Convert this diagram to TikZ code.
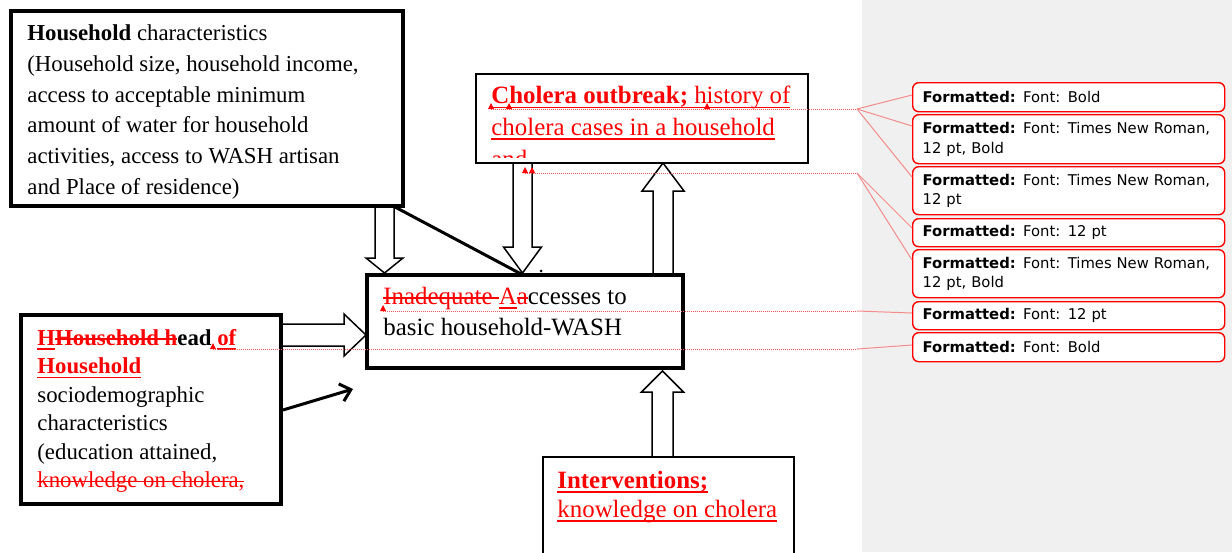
\documentclass[tikz,border=0pt]{standalone}
\usepackage{fontspec}
\setmainfont{Liberation Serif}
\newfontfamily\balfont{DejaVu Sans}
\usetikzlibrary{arrows.meta,calc}
\definecolor{panel}{RGB}{240,240,240}
\definecolor{trk}{RGB}{255,0,0}
\definecolor{trkline}{RGB}{245,90,90}
\definecolor{fanline}{RGB}{245,140,140}
% own underline and strike-out
\newcommand\ulx[1]{\leavevmode\setbox0\hbox{#1}\rlap{\rule[-2.2pt]{\wd0}{0.9pt}}\box0}
\newcommand\stx[1]{\leavevmode\setbox0\hbox{#1}\rlap{\rule[2.9pt]{\wd0}{0.7pt}}\box0}
% block arrow: #1 start, #2 rotation, #3 length, #4 shaft half width, #5 head half width, #6 head length
\newcommand\blockarrow[6]{%
  \draw[blk,shift={(#1)},rotate=#2] (0,-#4) -- ({#3-#6},-#4) -- ({#3-#6},-#5) -- (#3,0)
    -- ({#3-#6},#5) -- ({#3-#6},#4) -- (0,#4) -- cycle;}
\newcommand\caretat[2]{\fill[trk] ({#1-3},#2) -- ({#1+3},#2) -- (#1,{#2-6}) -- cycle;}
\begin{document}
\begin{tikzpicture}[x=0.5pt,y=-0.5pt,
  box/.style={draw=black, fill=white, anchor=north west, inner sep=0pt, outer sep=0pt},
  thickbox/.style={box, line width=1.7pt},
  thinbox/.style={box, line width=0.9pt},
  txt/.style={anchor=north west, inner sep=0pt, align=left},
  blk/.style={draw=black, fill=white, line width=0.75pt, line join=miter},
  conn/.style={line width=1.5pt, draw=black},
  track/.style={draw=trkline, line width=0.45pt, dash pattern=on 0.6pt off 0.4pt},
  fan/.style={draw=fanline, line width=0.5pt},
  balloon/.style={draw=trk, fill=white, line width=0.7pt, rounded corners=3pt,
    anchor=north west, minimum width=156pt, text width=146pt, inner xsep=5pt,
    inner ysep=0pt, align=left, font=\balfont\fontsize{7.4}{9.75}\selectfont}
]
\useasboundingbox (0,0) rectangle (1232,552);
\fill[panel] (862,0) rectangle (1232,552);

% block arrows and connectors (drawn under the boxes)
\blockarrow{384.5,207}{-90}{66}{9.5}{18.5}{15}
\blockarrow{522.5,163}{-90}{110}{9.5}{19}{26}
\blockarrow{663,275}{90}{112}{10}{21}{28}
\blockarrow{662.5,457}{90}{86}{10.5}{21}{21}
\blockarrow{281,335}{0}{85}{11}{21}{22}

% boxes
\node[thickbox, minimum width=196pt, minimum height=97.5pt] (hh) at (11,11) {};
\node[thinbox, minimum width=166pt, minimum height=44.5pt] (ob) at (476,74) {};
\node[thickbox, minimum width=158pt, minimum height=46.5pt] (wash) at (367,275) {};
\node[thickbox, minimum width=130pt, minimum height=94.5pt] (head) at (21,315) {};
\node[thinbox, minimum width=125.5pt, minimum height=53pt] (int) at (543,457) {};

% line connectors
\coordinate (hhs) at (395,207);
\coordinate (hds) at (283,410);
\coordinate (hde) at (353,389);
\draw[conn] (hhs) -- (wash.north -| 523,0);
\fill (541,271) circle (1.5);
\draw[conn, -{Straight Barb[length=5pt,width=9pt]}] (hds) -- (hde);

% texts
\node[txt, font=\fontsize{11.4}{15.4}\selectfont] (hhtxt) at (27,16)
 {\rule{0pt}{12pt}\textbf{Household} characteristics\\
  (Household size, household income,\\
  access to acceptable minimum\\
  amount of water for household\\
  activities, access to WASH artisan\\
  and Place of residence)};

\begin{scope}
\clip (477,75) rectangle (807,157);
\node[txt, font=\fontsize{12.45}{15.85}\selectfont, text=trk] (obtxt) at (491,79.5)
 {\rule{0pt}{12pt}\ulx{\textbf{Cholera outbreak;} history of}\\
  \ulx{cholera cases in a household}\\
  and};
\end{scope}

\node[txt, font=\fontsize{12.45}{15.5}\selectfont] (washtxt) at (383,280)
 {\rule{0pt}{12pt}{\color{trk}\stx{Inadequate }\ulx{A}\stx{a}}ccesses to\\
  basic household-WASH};

\node[txt, font=\fontsize{11.4}{14.25}\selectfont] (headtxt) at (37,321)
 {\rule{0pt}{12pt}{\bfseries{\color{trk}\ulx{H}\stx{Household h}}ead {\color{trk}\ulx{of}}}\\
  {\color{trk}\bfseries\ulx{Household}}\\
  sociodemographic\\
  characteristics\\
  (education attained,\\
  {\color{trk}\stx{knowledge on cholera,}}};

\node[txt, font=\fontsize{12.45}{14.5}\selectfont] (inttxt) at (557,464)
 {\rule{0pt}{12pt}{\color{trk}\bfseries\ulx{Interventions;}}\\
  {\color{trk}\ulx{knowledge on cholera}}};

% comment balloons
\node[balloon, minimum height=14.5pt] (b1) at (912,82) {\textbf{Formatted:} Font: Bold};
\node[balloon, minimum height=24.5pt] (b2) at (912,114) {\textbf{Formatted:} Font: Times New Roman,\\12 pt, Bold};
\node[balloon, minimum height=24pt] (b3) at (912,166) {\textbf{Formatted:} Font: Times New Roman,\\12 pt};
\node[balloon, minimum height=14pt] (b4) at (912,218) {\textbf{Formatted:} Font: 12 pt};
\node[balloon, minimum height=24pt] (b5) at (912,249) {\textbf{Formatted:} Font: Times New Roman,\\12 pt, Bold};
\node[balloon, minimum height=14pt] (b6) at (912,301) {\textbf{Formatted:} Font: 12 pt};
\node[balloon, minimum height=14.5pt] (b7) at (912,332) {\textbf{Formatted:} Font: Bold};

% track-change leader lines
\coordinate (k1) at (491,109); \coordinate (f1) at (857,109);
\coordinate (k2) at (525,173); \coordinate (f2) at (857,173);
\coordinate (k3) at (383,311); \coordinate (f3) at (857,311);
\coordinate (k4) at (213,349); \coordinate (f4) at (857,349);
\draw[track] (k1) -- (f1);
\draw[track] (k2) -- (f2);
\draw[track] (k3) -- (f3);
\draw[track] (k4) -- (f4);
\draw[fan] (f1) -- ($(b1.north west)+(0,13)$);
\draw[fan] (f1) -- ($(b2.north west)+(0,12)$);
\draw[fan] (f1) -- ($(b3.north west)+(0,11)$);
\draw[fan] (f2) -- ($(b4.north west)+(0,10)$);
\draw[fan] (f2) -- ($(b5.north west)+(0,11)$);
\draw[fan] (f3) -- ($(b6.north west)+(0,12)$);
\draw[fan] (f4) -- ($(b7.north west)+(0,13)$);

% insertion carets
\caretat{491}{109}
\caretat{509}{109}
\caretat{707}{109}
\caretat{525}{173}
\caretat{532}{173}
\caretat{383}{311}
\caretat{213}{349}
\end{tikzpicture}
\end{document}
